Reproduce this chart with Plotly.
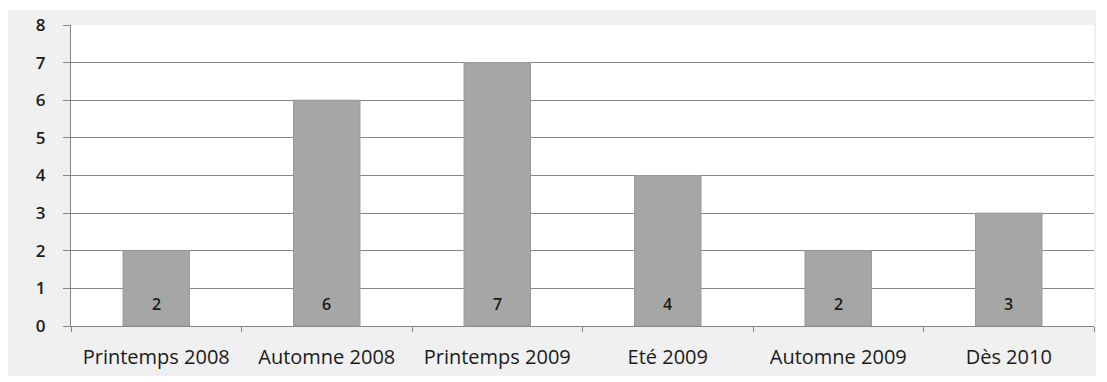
import plotly.graph_objects as go

categories = ["Printemps 2008", "Automne 2008", "Printemps 2009", "Eté 2009", "Automne 2009", "Dès 2010"]
counts = [2, 6, 7, 4, 2, 3]
y_ticks = [0, 1, 2, 3, 4, 5, 6, 7, 8]

W, H = 1107, 382
L, R, T, B = 71, 13, 25, 56
pw, ph = W - L - R, H - T - B

FONT = "Open Sans"
TXT = "#1a1a1a"
GRID = "#868686"

fig = go.Figure(
    go.Bar(
        x=categories,
        y=counts,
        marker=dict(color="#a6a6a6", line=dict(color="#9a9a9a", width=1)),
        width=0.39,
        hoverinfo="skip",
    )
)

# value labels sitting just above the base of each bar
for cat, v in zip(categories, counts):
    fig.add_annotation(x=cat, y=0, text=str(v), showarrow=False,
                       yanchor="bottom", yshift=9,
                       font=dict(family=FONT, size=16, color=TXT, weight=600))


def px_to_paper_x(px):
    return (px - L) / pw


def px_to_paper_y(py):
    return (H - B - py) / ph


# grey panel behind the chart, with a thin white border round the page
fig.add_shape(type="rect", xref="paper", yref="paper", layer="below",
              x0=px_to_paper_x(8), x1=px_to_paper_x(1096),
              y0=px_to_paper_y(376), y1=px_to_paper_y(10),
              fillcolor="#f0f0f0", line=dict(width=0))
# white plotting area on top of the panel
fig.add_shape(type="rect", xref="paper", yref="paper", layer="below",
              x0=0, x1=1, y0=0, y1=1,
              fillcolor="white", line=dict(width=0))

fig.update_layout(
    width=W, height=H,
    margin=dict(l=L, r=R, t=T, b=B),
    paper_bgcolor="white",
    plot_bgcolor="white",
    showlegend=False,
    font=dict(family=FONT, size=18, color=TXT),
    xaxis=dict(
        showline=True, linecolor=GRID, linewidth=1,
        ticks="outside", tickson="boundaries", ticklen=5, tickcolor=GRID,
        tickfont=dict(family=FONT, size=20, color=TXT),
        ticklabelstandoff=13,
        showgrid=False,
    ),
    yaxis=dict(
        range=[0, 8], tickvals=y_ticks,
        showline=True, linecolor=GRID, linewidth=1,
        ticks="outside", ticklen=7, tickcolor=GRID,
        showgrid=True, gridcolor=GRID, gridwidth=1,
        zeroline=False,
        tickfont=dict(family=FONT, size=17, color=TXT, weight=600),
        ticklabelstandoff=14,
    ),
)

fig.write_html("out.html")
